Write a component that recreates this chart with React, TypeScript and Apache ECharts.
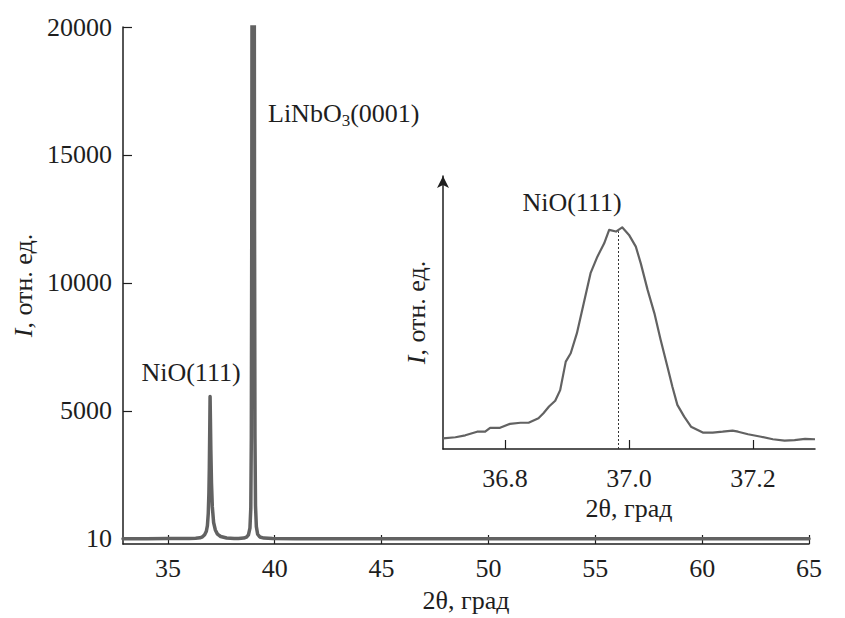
import React, { useEffect, useRef } from 'react';
import * as echarts from 'echarts';

// Main diffractogram: [2θ, intensity]
const mainScan: [number, number][] = [
  [32.9, 10], [34.0, 10], [35.0, 11], [35.6, 12], [36.0, 14], [36.3, 22], [36.5, 40],
  [36.62, 80], [36.72, 160], [36.8, 300], [36.85, 520], [36.89, 1000], [36.92, 1800],
  [36.94, 2800], [36.96, 4300], [36.975, 5560], [36.99, 4700], [37.01, 3500],
  [37.04, 2200], [37.08, 1250], [37.14, 640], [37.22, 350], [37.32, 185], [37.47, 92],
  [37.75, 36], [38.1, 16], [38.3, 16], [38.55, 30], [38.68, 70], [38.77, 160],
  [38.84, 420], [38.88, 1200], [38.905, 4000], [38.925, 12000], [38.94, 24000],
  [38.99, 30000], [39.04, 24000], [39.055, 12000], [39.075, 4000], [39.1, 1300],
  [39.14, 480], [39.2, 180], [39.3, 75], [39.5, 30], [39.9, 14], [41, 10], [45, 10],
  [50, 10], [55, 10], [60, 10], [65, 10],
];

// Inset: NiO(111) peak, relative intensity
const insetScan: [number, number][] = [
  [36.7, 3.8], [36.72, 4.2], [36.736, 4.9], [36.755, 6.2], [36.768, 6.2], [36.776, 7.6],
  [36.792, 7.6], [36.808, 9.0], [36.825, 9.4], [36.838, 9.4], [36.854, 11.0],
  [36.862, 12.8], [36.871, 15.2], [36.881, 17.3], [36.889, 21.1], [36.898, 31.3],
  [36.906, 34.3], [36.916, 41.5], [36.927, 52.2], [36.938, 63.0], [36.949, 68.9],
  [36.96, 73.7], [36.968, 78.5], [36.979, 77.9], [36.989, 79.4], [37.0, 76.7],
  [37.011, 72.5], [37.019, 66.5], [37.03, 57.0], [37.041, 48.6], [37.051, 39.1],
  [37.062, 29.5], [37.07, 22.3], [37.078, 15.8], [37.089, 11.6], [37.1, 8.0],
  [37.119, 5.9], [37.135, 5.9], [37.151, 6.2], [37.167, 6.6], [37.176, 6.2],
  [37.192, 5.3], [37.213, 4.4], [37.232, 3.5], [37.251, 3.0], [37.267, 3.2],
  [37.284, 3.6], [37.3, 3.5],
];

const mainXTicks = [35, 40, 45, 50, 55, 60, 65];
const mainYTicks = [10, 5000, 10000, 15000, 20000];
const insetXTicks = [36.8, 37.0, 37.2];
const peakPosition = 36.982;
const peakLevel = 78.0;

const FONT = '"Liberation Serif", "Times New Roman", serif';
const INK = '#1e1e1e';
const CURVE = '#626262';

export default function App() {
  const ref = useRef<HTMLDivElement>(null);

  useEffect(() => {
    if (!ref.current) return;
    const chart = echarts.init(ref.current, undefined, { renderer: 'svg' });
    const txt = { fontFamily: FONT, fontSize: 26, color: INK };
    chart.setOption({
      animation: false,
      backgroundColor: '#ffffff',
      textStyle: { fontFamily: FONT },
      grid: [
        { left: 123, right: 36, top: 27, bottom: 67 },
        { left: 443, right: 30, top: 176, bottom: 169 },
      ],
      xAxis: [
        {
          type: 'value', gridIndex: 0, min: 32.9, max: 65,
          name: '2θ, град', nameLocation: 'middle', nameGap: 43,
          nameTextStyle: txt,
          axisLine: { show: true, onZero: false, lineStyle: { color: INK, width: 1.5 } },
          axisTick: { show: true, inside: true, length: 9, customValues: mainXTicks, lineStyle: { color: INK, width: 1.2 } },
          axisLabel: { ...txt, margin: 11, customValues: mainXTicks, formatter: (v: number) => String(v) },
          splitLine: { show: false },
        },
        {
          type: 'value', gridIndex: 1, min: 36.7, max: 37.3,
          name: '2θ, град', nameLocation: 'middle', nameGap: 46,
          nameTextStyle: txt,
          axisLine: { show: true, onZero: false, lineStyle: { color: INK, width: 1.5 } },
          axisTick: { show: true, inside: true, length: 9, customValues: insetXTicks, lineStyle: { color: INK, width: 1.2 } },
          axisLabel: { ...txt, margin: 16, customValues: insetXTicks, formatter: (v: number) => v.toFixed(1) },
          splitLine: { show: false },
        },
      ],
      yAxis: [
        {
          type: 'value', gridIndex: 0, min: -200, max: 20000,
          name: '{i|I}, отн. ед.', nameLocation: 'middle', nameGap: 86, nameRotate: 90,
          nameTextStyle: { ...txt, rich: { i: { fontFamily: FONT, fontSize: 26, fontStyle: 'italic', color: INK } } },
          axisLine: { show: true, onZero: false, lineStyle: { color: INK, width: 1.5 } },
          axisTick: { show: true, inside: true, length: 9, customValues: mainYTicks, lineStyle: { color: INK, width: 1.2 } },
          axisLabel: { ...txt, margin: 11, customValues: mainYTicks, formatter: (v: number) => String(v) },
          splitLine: { show: false },
        },
        {
          type: 'value', gridIndex: 1, min: 0, max: 97.8,
          name: '{i|I}, отн. ед.', nameLocation: 'middle', nameGap: 14, nameRotate: 90,
          nameTextStyle: { ...txt, rich: { i: { fontFamily: FONT, fontSize: 26, fontStyle: 'italic', color: INK } } },
          axisLine: { show: true, onZero: false, symbol: ['none', 'arrow'], symbolSize: [9, 12], lineStyle: { color: INK, width: 1.5 } },
          axisTick: { show: false },
          axisLabel: { show: false },
          splitLine: { show: false },
        },
      ],
      series: [
        {
          type: 'line', xAxisIndex: 0, yAxisIndex: 0, data: mainScan,
          symbol: 'none', smooth: false, clip: true,
          lineStyle: { color: CURVE, width: 3.5, join: 'round', cap: 'round' },
        },
        {
          type: 'line', xAxisIndex: 1, yAxisIndex: 1, data: insetScan,
          symbol: 'none', smooth: false,
          lineStyle: { color: CURVE, width: 2.2, join: 'round' },
          markLine: {
            silent: true, symbol: 'none', label: { show: false },
            lineStyle: { color: '#333', width: 1, type: [2, 2] },
            data: [[{ coord: [peakPosition, 0] }, { coord: [peakPosition, peakLevel] }]],
          },
        },
      ],
      graphic: [
        {
          type: 'text', left: 268, top: 100,
          style: {
            text: '{a|LiNbO}{s|3}{a|(0001)}',
            rich: {
              a: { fontFamily: FONT, fontSize: 26, fill: INK },
              s: { fontFamily: FONT, fontSize: 17, fill: INK, padding: [14, 0, 0, 0] },
            },
          },
        },
        {
          type: 'text', x: 191, y: 372,
          style: { text: 'NiO(111)', fontFamily: FONT, fontSize: 26, fill: INK, align: 'center', verticalAlign: 'middle' },
        },
        {
          type: 'text', x: 572, y: 202,
          style: { text: 'NiO(111)', fontFamily: FONT, fontSize: 26, fill: INK, align: 'center', verticalAlign: 'middle' },
        },
      ],
    });
    return () => chart.dispose();
  }, []);

  return <div ref={ref} style={{ width: 845, height: 618, position: 'fixed', left: 0, top: 0 }} />;
}
